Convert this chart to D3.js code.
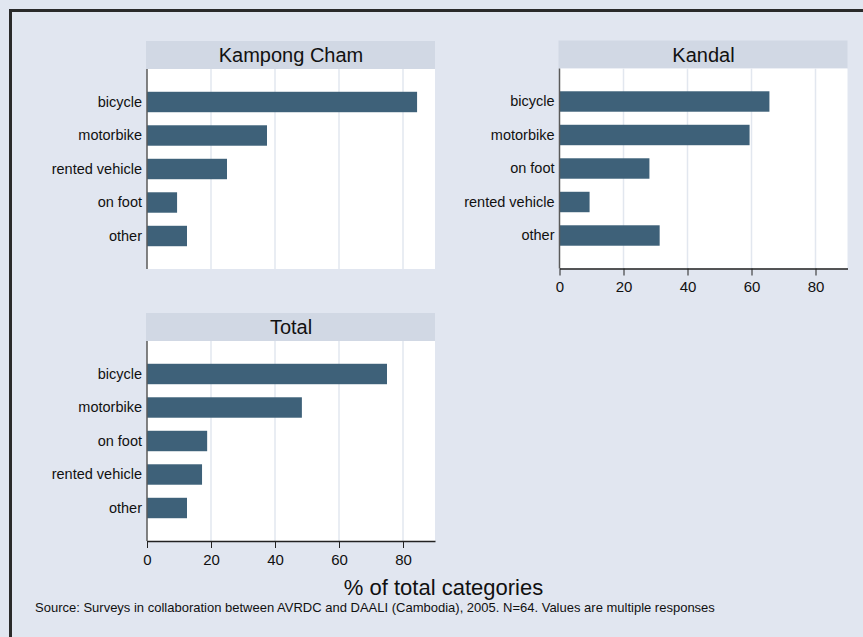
<!DOCTYPE html>
<html>
<head>
<meta charset="utf-8">
<script src="https://cdn.jsdelivr.net/npm/d3@7"></script>
<style>
  html, body { margin: 0; padding: 0; background: #e1e6f0; }
  svg { display: block; font-family: "Liberation Sans", Arial, sans-serif; }
</style>
</head>
<body>
<script>
// ---- data ----
const panelTitles = ["Kampong Cham", "Kandal", "Total"];
const kampongChamCats = ["bicycle", "motorbike", "rented vehicle", "on foot", "other"];
const kampongChamVals = [84.4, 37.5, 25.0, 9.4, 12.5];
const kandalCats = ["bicycle", "motorbike", "on foot", "rented vehicle", "other"];
const kandalVals = [65.6, 59.4, 28.1, 9.4, 31.3];
const totalCats = ["bicycle", "motorbike", "on foot", "rented vehicle", "other"];
const totalVals = [75.0, 48.4, 18.8, 17.2, 12.5];
const xTicks = [0, 20, 40, 60, 80];
const xTitle = "% of total categories";
const sourceNote = "Source: Surveys in collaboration between AVRDC and DAALI (Cambodia), 2005. N=64. Values are multiple responses";

const W = 863, H = 637;
const BAR = "#3e6179", HEADER = "#d1d8e4", GRID = "#e2e7ef", BG = "#e1e6f0";

const svg = d3.select("body").append("svg").attr("width", W).attr("height", H);
svg.append("rect").attr("width", W).attr("height", H).attr("fill", BG);
// outer frame
svg.append("path").attr("d", `M10.5,${H + 5} L10.5,10.5 L${W + 5},10.5`)
  .attr("fill", "none").attr("stroke", "#2a2a2a").attr("stroke-width", 3);

function panel(title, cats, vals, x0, x1, top, showAxis) {
  const headerH = 28, plotH = 200;
  const g = svg.append("g");
  const x = d3.scaleLinear().domain([0, 90]).range([x0, x1]);
  const y = d3.scaleBand().domain(cats).range([top + headerH, top + headerH + plotH])
    .paddingInner(0.39).paddingOuter(0.68);
  // header
  g.append("rect").attr("x", x0 - 1).attr("y", top).attr("width", x1 - x0 + 1).attr("height", headerH).attr("fill", HEADER);
  g.append("text").attr("x", (x0 + x1) / 2).attr("y", top + headerH / 2 + 7)
    .attr("text-anchor", "middle").attr("font-size", 20).attr("fill", "#111").text(title);
  // plot area
  g.append("rect").attr("x", x0).attr("y", top + headerH).attr("width", x1 - x0).attr("height", plotH).attr("fill", "#fff");
  // grid
  g.selectAll(".grid").data(xTicks.filter(d => d > 0)).join("line")
    .attr("x1", d => x(d)).attr("x2", d => x(d))
    .attr("y1", top + headerH).attr("y2", top + headerH + plotH)
    .attr("stroke", GRID).attr("stroke-width", 1.5);
  // bars
  g.selectAll(".bar").data(cats).join("rect")
    .attr("x", x(0)).attr("y", d => y(d))
    .attr("width", (d, i) => x(vals[i]) - x(0)).attr("height", y.bandwidth())
    .attr("fill", BAR);
  // y axis
  const ya = g.append("g").attr("transform", `translate(${x0},0)`)
    .call(d3.axisLeft(y).tickSize(0).tickPadding(5));
  ya.select(".domain").remove();
  ya.selectAll("text").attr("font-size", 14.5).attr("font-family", "Liberation Sans, Arial, sans-serif").attr("fill", "#111");
  g.append("line").attr("x1", x0).attr("x2", x0).attr("y1", top + headerH).attr("y2", top + headerH + plotH)
    .attr("stroke", "#5a5a5a").attr("stroke-width", 1.5);
  if (showAxis) {
    const xa = g.append("g").attr("transform", `translate(0,${top + headerH + plotH})`)
      .call(d3.axisBottom(x).tickValues(xTicks).tickSize(7).tickSizeOuter(0).tickPadding(6));
    xa.select(".domain").attr("stroke", "#222").attr("stroke-width", 1.3);
    xa.selectAll(".tick line").attr("stroke", "#222");
    xa.selectAll("text").attr("font-size", 15).attr("font-family", "Liberation Sans, Arial, sans-serif").attr("fill", "#111");
  }
}

panel(panelTitles[0], kampongChamCats, kampongChamVals, 147, 435, 41, false);
panel(panelTitles[1], kandalCats, kandalVals, 559.5, 847.5, 40.5, true);
panel(panelTitles[2], totalCats, totalVals, 147, 435, 313, true);

svg.append("text").attr("x", 443.5).attr("y", 595).attr("text-anchor", "middle")
  .attr("font-size", 22).attr("fill", "#111").text(xTitle);
svg.append("text").attr("x", 35).attr("y", 612)
  .attr("font-size", 13).attr("fill", "#111").text(sourceNote);
</script>
</body>
</html>
